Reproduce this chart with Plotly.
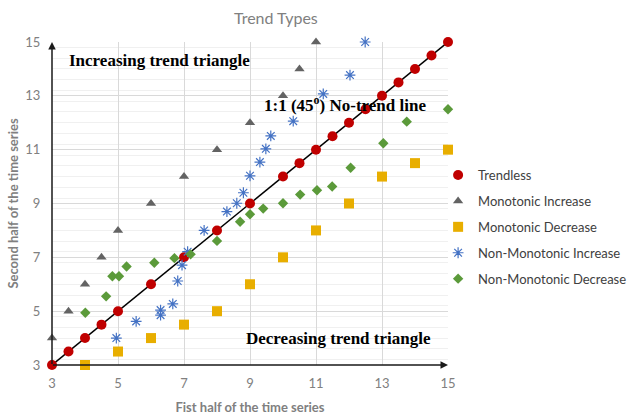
import plotly.graph_objects as go

trend_x = [3, 3.5, 4, 4.5, 5, 6, 7, 8, 9, 10, 10.5, 11, 11.5, 12, 12.5, 13, 13.5, 14, 14.5, 15]
trend_y = [3, 3.5, 4, 4.5, 5, 6, 7, 8, 9, 10, 10.5, 11, 11.5, 12, 12.5, 13, 13.5, 14, 14.5, 15]

mi_x = [3, 3.5, 4, 4.5, 5, 6, 7, 8, 9, 10, 10.5, 11]
mi_y = [4, 5, 6, 7, 8, 9, 10, 11, 12, 13, 14, 15]

md_x = [4, 5, 6, 7, 8, 9, 10, 11, 12, 13, 14, 15]
md_y = [3, 3.5, 4, 4.5, 5, 6, 7, 8, 9, 10, 10.5, 11]

nmi_x = [4.95, 5.55, 6.29, 6.29, 6.66, 6.81, 6.94, 7.11, 7.61, 8.3, 8.6, 8.8, 9.0, 9.3, 9.48, 9.63, 10.31, 11.22, 12.03, 12.49]
nmi_y = [4.0, 4.62, 4.85, 5.04, 5.27, 6.12, 6.71, 7.21, 8.0, 8.7, 9.01, 9.4, 10.03, 10.54, 11.03, 11.51, 12.06, 13.07, 13.77, 15.0]

nmd_x = [4.01, 4.64, 4.83, 5.03, 5.26, 6.1, 6.71, 7.2, 8.0, 8.7, 9.0, 9.4, 10.0, 10.52, 11.03, 11.49, 12.05, 13.04, 13.75, 15.0]
nmd_y = [4.94, 5.55, 6.3, 6.3, 6.66, 6.8, 6.97, 7.11, 7.61, 8.32, 8.6, 8.81, 9.01, 9.33, 9.49, 9.63, 10.33, 11.24, 12.04, 12.5]

ticks = [3, 5, 7, 9, 11, 13, 15]

fig = go.Figure()
fig.add_trace(go.Scatter(x=trend_x, y=trend_y, mode="lines", line=dict(color="black", width=1.5),
                         showlegend=False, hoverinfo="skip", cliponaxis=False))
fig.add_trace(go.Scatter(x=trend_x, y=trend_y, mode="markers", name="Trendless", legendgroup="a",
                         cliponaxis=False, marker=dict(color="#C00000", size=10, symbol="circle")))
fig.add_trace(go.Scatter(x=mi_x, y=mi_y, mode="markers", name="Monotonic Increase", legendgroup="b",
                         cliponaxis=False, marker=dict(color="#636363", size=9, symbol="triangle-up")))
fig.add_trace(go.Scatter(x=md_x, y=md_y, mode="markers", name="Monotonic Decrease", legendgroup="c",
                         cliponaxis=False, marker=dict(color="#E8AE00", size=10, symbol="square")))
fig.add_trace(go.Scatter(x=nmi_x, y=nmi_y, mode="markers", name="Non-Monotonic Increase", legendgroup="d",
                         cliponaxis=False,
                         marker=dict(color="#4472C4", size=9, symbol="asterisk-open",
                                     line=dict(color="#4472C4", width=1.2))))
fig.add_trace(go.Scatter(x=nmd_x, y=nmd_y, mode="markers", name="Non-Monotonic Decrease", legendgroup="e",
                         cliponaxis=False, marker=dict(color="#5B9A3A", size=8, symbol="diamond")))

ann_font = dict(family="Liberation Serif", size=17, color="black")
fig.add_annotation(x=3, y=15, ax=3, ay=2.98, xref="x", yref="y", axref="x", ayref="y",
                   showarrow=True, arrowhead=2, arrowsize=1, arrowwidth=1.5, arrowcolor="#1a1a1a", text="")
fig.add_annotation(x=15, y=3, ax=2.98, ay=3, xref="x", yref="y", axref="x", ayref="y",
                   showarrow=True, arrowhead=2, arrowsize=1, arrowwidth=1.5, arrowcolor="#1a1a1a", text="")
fig.add_annotation(x=3.45, y=14.3, xref="x", yref="y", text="<b>Increasing trend triangle</b>",
                   showarrow=False, xanchor="left", yanchor="middle", font=ann_font)
fig.add_annotation(x=9.35, y=12.7, xref="x", yref="y", text="<b>1:1 (45<sup>o</sup>) No-trend line</b>",
                   showarrow=False, xanchor="left", yanchor="middle", font=ann_font)
fig.add_annotation(x=14.55, y=4.0, xref="x", yref="y", text="<b>Decreasing trend triangle</b>",
                   showarrow=False, xanchor="right", yanchor="middle", font=ann_font)

axis_font = dict(family="Lato", size=13, color="#808080")
fig.update_layout(
    width=627, height=415,
    margin=dict(l=52, r=179, t=42, b=50, autoexpand=False),
    plot_bgcolor="white", paper_bgcolor="white",
    font=dict(family="Lato", color="#595959"),
    title=dict(text="Trend Types", x=0.44, xanchor="center", y=0.955, yanchor="middle",
               font=dict(family="Lato", size=16, color="#808080")),
    legend=dict(x=0.975, y=0.427, xanchor="left", yanchor="middle",
                font=dict(family="Lato", size=13, color="#404040"),
                tracegroupgap=6, itemwidth=30, bgcolor="rgba(0,0,0,0)"),
    xaxis=dict(range=[3, 15], tickvals=ticks, showgrid=True, gridcolor="#d9d9d9", gridwidth=1,
               zeroline=False, showline=False, ticks="outside", ticklen=6, tickcolor="rgba(0,0,0,0)",
               tickfont=axis_font,
               title=dict(text="<b>Fist half of the time series</b>", font=dict(family="Lato", size=13, color="#808080"), standoff=16)),
    yaxis=dict(range=[3, 15], tickvals=ticks, showgrid=True, gridcolor="#d9d9d9", gridwidth=1,
               zeroline=False, showline=False, ticks="outside", ticklen=8, tickcolor="rgba(0,0,0,0)",
               tickfont=axis_font,
               minor=dict(dtick=0.4, showgrid=True, gridcolor="#f0f0f0", gridwidth=1),
               title=dict(text="<b>Second half of the time series</b>", font=dict(family="Lato", size=13, color="#808080"), standoff=3)),
)
fig.write_html("out.html")
